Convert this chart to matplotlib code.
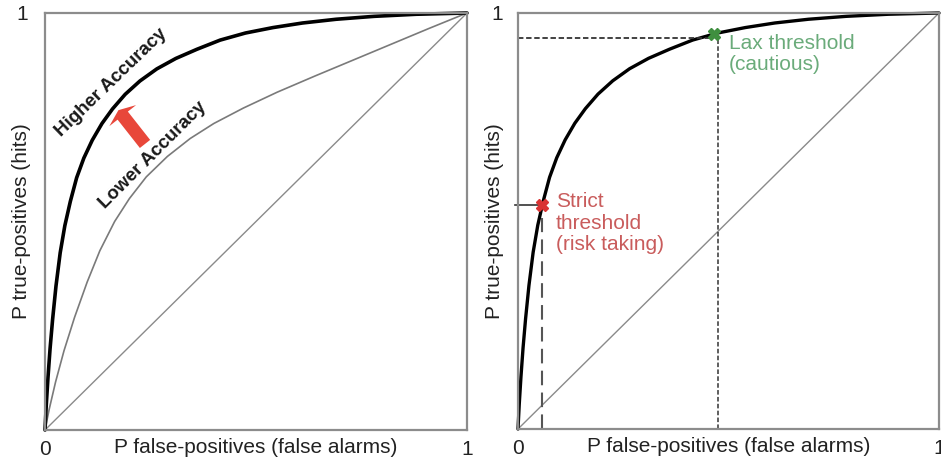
import matplotlib
matplotlib.use("Agg")
import matplotlib.pyplot as plt
from matplotlib.patches import FancyArrowPatch

plt.rcParams['font.family'] = ['Liberation Sans', 'DejaVu Sans']

# ROC curves (false-alarm rate, hit rate)
high_fa = [0, 0.003, 0.007, 0.012, 0.018, 0.026, 0.036, 0.047, 0.06, 0.075, 0.092,
           0.112, 0.135, 0.16, 0.19, 0.225, 0.265, 0.31, 0.36, 0.415, 0.475, 0.54,
           0.61, 0.69, 0.78, 0.88, 1.0]
high_hit = [0, 0.06, 0.125, 0.195, 0.265, 0.345, 0.425, 0.49, 0.548, 0.605, 0.652,
            0.695, 0.735, 0.77, 0.805, 0.837, 0.866, 0.891, 0.913, 0.935, 0.952, 0.965,
            0.976, 0.985, 0.992, 0.997, 1.0]

low_fa = [0, 0.01, 0.025, 0.045, 0.07, 0.1, 0.13, 0.165, 0.2, 0.24, 0.29, 0.344,
          0.4, 0.47, 0.55, 0.64, 0.73, 0.82, 0.91, 1.0]
low_hit = [0, 0.05, 0.115, 0.19, 0.27, 0.355, 0.43, 0.5, 0.555, 0.607, 0.656, 0.699,
           0.735, 0.772, 0.81, 0.849, 0.887, 0.925, 0.963, 1.0]

chance = [0, 1]

# thresholds on the right panel
strict_pt = (0.058, 0.538)
lax_pt = (0.466, 0.95)
lax_guide = (0.475, 0.94)

tick_labels = ["0", "1"]
xlabel = "P false-positives (false alarms)"
ylabel = "P true-positives (hits)"

spine_col = "#8c8c8c"
fs = 15

fig = plt.figure(figsize=(9.41, 4.62), dpi=100)
ax1 = fig.add_axes([45 / 941, 32 / 462, 422 / 941, 417 / 462])
ax2 = fig.add_axes([518 / 941, 33 / 462, 421 / 941, 416 / 462])


def style(ax, ylab_x, ypad):
    ax.set_xlim(0, 1)
    ax.set_ylim(0, 1)
    ax.set_xticks([0, 1])
    ax.set_xticklabels(tick_labels)
    ax.set_yticks([1])
    ax.set_yticklabels(["1"])
    ax.tick_params(axis='x', length=0, pad=7, labelsize=fs, colors='#222222')
    ax.tick_params(axis='y', length=0, pad=ypad, labelsize=fs, colors='#222222')
    for s in ax.spines.values():
        s.set_color(spine_col)
        s.set_linewidth(1.6)
    ax.set_xlabel(xlabel, fontsize=fs, va='baseline', color='#222222')
    ax.xaxis.set_label_coords(0.5, -0.055)
    ax.set_ylabel(ylabel, fontsize=fs, va='center', color='#222222')
    ax.yaxis.set_label_coords(ylab_x, 0.5)


# left panel
style(ax1, -0.055, 12)
ax1.plot(chance, chance, color='#8a8a8a', lw=1.0)
ax1.plot(low_fa, low_hit, color='#7a7a7a', lw=1.2, solid_joinstyle='round')
ax1.plot(high_fa, high_hit, color='black', lw=2.6, clip_on=False,
         solid_capstyle='round', solid_joinstyle='round')

arrow = FancyArrowPatch((0.237, 0.686), (0.174, 0.767),
                        arrowstyle="simple,head_length=5,head_width=24.5,tail_width=9.4",
                        mutation_scale=1, color='#e8473a', lw=0, shrinkA=0, shrinkB=0)
ax1.add_patch(arrow)
ax1.text(0.156, 0.833, "Higher Accuracy", fontsize=13.5, fontweight='bold', rotation=44,
         ha='center', va='center', rotation_mode='anchor', color='#1a1a1a')
ax1.text(0.255, 0.66, "Lower Accuracy", fontsize=13.5, fontweight='bold', rotation=45,
         ha='center', va='center', rotation_mode='anchor', color='#1a1a1a')

# right panel
style(ax2, -0.055, 11)
ax2.plot(chance, chance, color='#8a8a8a', lw=1.0)
ax2.plot(high_fa, high_hit, color='black', lw=2.4, clip_on=False,
         solid_capstyle='round', solid_joinstyle='round')

ax2.plot([0, lax_pt[0]], [lax_guide[1], lax_guide[1]], color='#333333', lw=1.3,
         linestyle=(0, (3, 1.5)))
ax2.plot([lax_guide[0], lax_guide[0]], [0, lax_guide[1]], color='#333333', lw=1.1,
         linestyle=(0, (3, 1.5)))
ax2.plot([-0.008, strict_pt[0]], [strict_pt[1], strict_pt[1]], color='#333333', lw=1.2,
         clip_on=False)
ax2.plot([strict_pt[0], strict_pt[0]], [0, strict_pt[1] - 0.03], color='#555555', lw=1.5,
         linestyle=(0, (7, 3.5)))

ax2.plot(*lax_pt, marker='X', ms=9, color='#3f8f3f', mec='#3f8f3f', clip_on=False)
ax2.plot(*strict_pt, marker='X', ms=9, color='#d93434', mec='#d93434')

ax2.text(0.501, 0.901, "Lax threshold\n(cautious)", fontsize=fs, color='#6aab7a',
         ha='left', va='center', linespacing=1.15)
ax2.text(0.09, 0.495, "Strict\nthreshold\n(risk taking)", fontsize=fs, color='#c95c5c',
         ha='left', va='center', linespacing=1.15)

fig.savefig("out.png", dpi=100)
